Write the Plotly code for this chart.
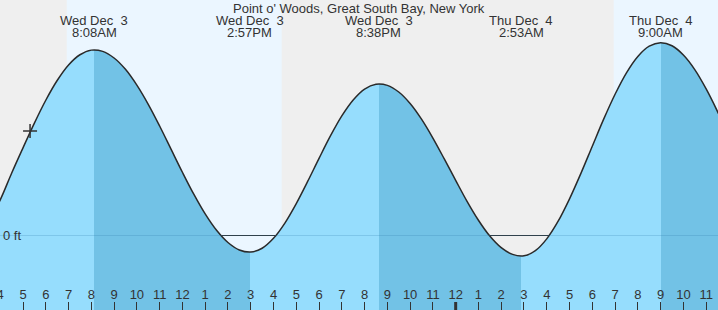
import plotly.graph_objects as go

# ---- data (hours since Wed Dec 3 00:00, heights in ft), half-hourly from 03:00 Wed ----
curve_ft = [-0.02, 0.105, 0.255, 0.445, 0.626, 0.803, 0.966, 1.107, 1.218, 1.291,
            1.324, 1.315, 1.268, 1.187, 1.074, 0.937, 0.782, 0.617, 0.452, 0.295,
            0.154, 0.037, -0.050, -0.103, -0.118, -0.091, -0.020, 0.089, 0.228, 0.386,
            0.551, 0.711, 0.854, 0.968, 1.046, 1.080, 1.072, 1.025, 0.943, 0.831,
            0.696, 0.547, 0.394, 0.244, 0.109, -0.004, -0.087, -0.135, -0.145, -0.108,
            -0.024, 0.102, 0.262, 0.444, 0.638, 0.831, 1.009, 1.162, 1.279, 1.352,
            1.377, 1.355, 1.289, 1.185, 1.047, 0.885, 0.707]
curve_hours = [3 + 0.5 * i for i in range(len(curve_ft))]

event_hours = [8.133, 14.95, 20.633, 26.883, 33.0]
event_day = ["Wed Dec\u00a0 3", "Wed Dec\u00a0 3", "Wed Dec\u00a0 3", "Thu Dec\u00a0 4", "Thu Dec\u00a0 4"]
event_time = ["8:08AM", "2:57PM", "8:38PM", "2:53AM", "9:00AM"]

day_start = [6.92, 30.94]
day_end = [16.36, 36.0]

now_hour = 5.31
now_ft = 0.746

tick_hours = list(range(4, 36))
tick_labels = ["4", "5", "6", "7", "8", "9", "10", "11", "12", "1", "2", "3", "4", "5", "6", "7",
               "8", "9", "10", "11", "12", "1", "2", "3", "4", "5", "6", "7", "8", "9", "10", "11"]

title = "Point o' Woods, Great South Bay, New York"

# ---- styling ----
X_RANGE = [3.99, 35.52]
Y_RANGE = [-0.532, 1.682]
NIGHT = "#efefef"
DAY = "#ebf6ff"
LIGHT = "#96ddfd"
DARK = "#72c2e6"
TXT = "#333333"
FONT = "Liberation Sans, Arial, sans-serif"

x0, x1 = curve_hours[0], curve_hours[-1]
span = x1 - x0
colors = [LIGHT, DARK]
stops = [[0.0, LIGHT]]
for i, t in enumerate(event_hours):
    p = (t - x0) / span
    stops.append([p, colors[i % 2]])
    stops.append([p, colors[(i + 1) % 2]])
stops.append([1.0, colors[len(event_hours) % 2]])

fig = go.Figure()
fig.add_trace(go.Scatter(x=[x0, x1], y=[Y_RANGE[0], Y_RANGE[0]], mode="lines",
                         line=dict(width=0), hoverinfo="skip", showlegend=False))
fig.add_trace(go.Scatter(
    x=curve_hours, y=curve_ft, mode="lines", line=dict(color="#2a2a2a", width=1.5, shape="spline"),
    fill="tonexty",
    fillgradient=dict(type="horizontal", colorscale=stops, start=x0, stop=x1),
    hoverinfo="skip", showlegend=False))
fig.add_trace(go.Scatter(x=[now_hour], y=[now_ft], mode="markers",
                         marker=dict(symbol="cross-thin", size=10, line=dict(color=TXT, width=1.5)),
                         hoverinfo="skip", showlegend=False))

shapes = []
for s, e in zip(day_start, day_end):
    shapes.append(dict(type="rect", xref="x", yref="paper", x0=s, x1=e, y0=0, y1=1,
                       fillcolor=DAY, line=dict(width=0), layer="below"))
shapes.append(dict(type="line", xref="paper", yref="y", x0=0, x1=1, y0=0, y1=0,
                   line=dict(color=TXT, width=1), layer="below"))
shapes.append(dict(type="line", xref="paper", yref="y", x0=0, x1=1, y0=0, y1=0,
                   line=dict(color="rgba(40,120,170,0.22)", width=1), layer="above"))
shapes.append(dict(type="line", xref="x", yref="paper", x0=24, x1=24, y0=0, y1=8 / 310,
                   line=dict(color=TXT, width=3), layer="above"))

annotations = [dict(text=title, xref="paper", yref="paper", x=0.5, y=1, yanchor="middle",
                    yshift=-8, showarrow=False, borderpad=0,
                    font=dict(size=13, color=TXT, family=FONT))]
for t, d, tm in zip(event_hours, event_day, event_time):
    annotations.append(dict(text=d, xref="x", yref="paper", x=t, y=1, yanchor="middle",
                            yshift=-20, showarrow=False, borderpad=0,
                            font=dict(size=13, color=TXT, family=FONT)))
    annotations.append(dict(text=tm, xref="x", yref="paper", x=t, y=1, yanchor="middle",
                            yshift=-32, showarrow=False, borderpad=0,
                            font=dict(size=13, color=TXT, family=FONT)))
annotations.append(dict(text="0 ft", xref="paper", yref="y", x=0, y=0, xanchor="left",
                        yanchor="middle", xshift=1, showarrow=False,
                        font=dict(size=13, color=TXT, family=FONT)))

fig.update_layout(
    width=718, height=310, margin=dict(l=0, r=0, t=0, b=0, autoexpand=False),
    paper_bgcolor=NIGHT, plot_bgcolor=NIGHT,
    shapes=shapes, annotations=annotations, showlegend=False,
    xaxis=dict(range=X_RANGE, tickvals=tick_hours, ticktext=tick_labels, ticks="inside",
               ticklen=8, tickcolor=TXT, tickwidth=1, ticklabelposition="inside",
               ticklabeloverflow="allow", automargin=False,
               tickfont=dict(size=13, color=TXT, family=FONT), showgrid=False,
               zeroline=False, showline=False, fixedrange=True),
    yaxis=dict(range=Y_RANGE, visible=False, fixedrange=True, automargin=False),
)

fig.write_html("out.html")
